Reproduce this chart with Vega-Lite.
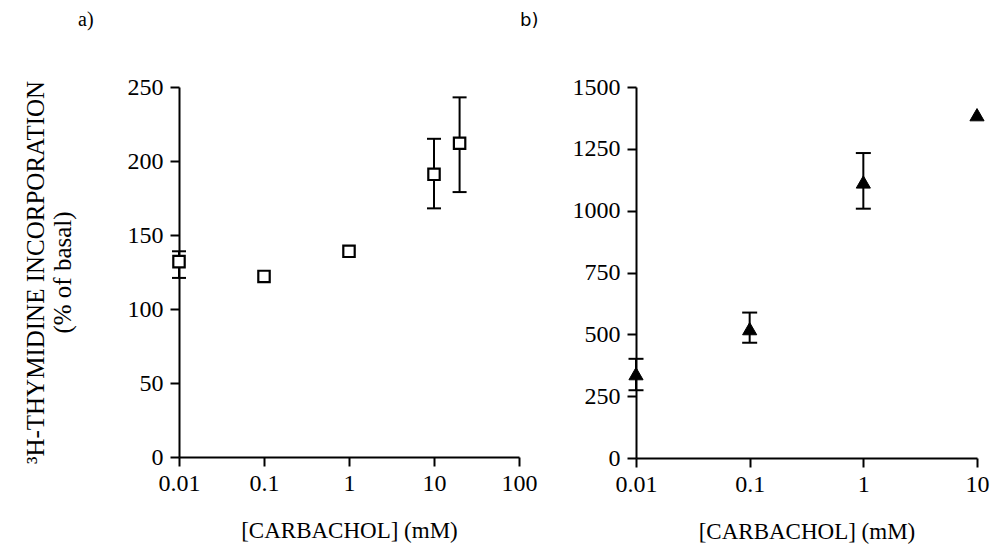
{
  "$schema": "https://vega.github.io/schema/vega-lite/v6.json",
  "background": "white",
  "padding": {"left": 23, "top": 10, "right": 5, "bottom": 5},
  "bounds": "flush",
  "spacing": 117,
  "datasets": {
    "carbA": [
      {"conc": 0.01, "pct": 132, "lo": 121, "hi": 139},
      {"conc": 0.1, "pct": 122, "lo": null, "hi": null},
      {"conc": 1, "pct": 139, "lo": null, "hi": null},
      {"conc": 10, "pct": 191, "lo": 168, "hi": 215},
      {"conc": 20, "pct": 212, "lo": 179, "hi": 243}
    ],
    "carbB": [
      {"conc": 0.01, "pct": 341, "lo": 274, "hi": 401},
      {"conc": 0.1, "pct": 523, "lo": 466, "hi": 588},
      {"conc": 1, "pct": 1116, "lo": 1008, "hi": 1233},
      {"conc": 10, "pct": 1388, "lo": null, "hi": null}
    ]
  },
  "config": {
    "view": {"stroke": null},
    "axis": {
      "grid": false,
      "domainColor": "black",
      "domainWidth": 2,
      "tickColor": "black",
      "tickWidth": 2,
      "tickSize": 9,
      "labelFont": "Liberation Serif",
      "labelFontSize": 24,
      "labelColor": "black",
      "labelPadding": 5,
      "labelFlush": false,
      "labelOverlap": false,
      "titleFont": "Liberation Serif",
      "titleFontSize": 23,
      "titleFontWeight": "normal",
      "titleColor": "black"
    },
    "axisY": {"labelPadding": 7},
    "title": {"color": "black", "fontWeight": "normal", "fontSize": 20}
  },
  "hconcat": [
    {
      "width": 340,
      "height": 370,
      "title": {"text": "a)", "anchor": "start", "frame": "group", "dx": -101, "offset": 45, "font": "Liberation Serif"},
      "data": {"name": "carbA"},
      "encoding": {
        "x": {
          "field": "conc", "type": "quantitative",
          "scale": {"type": "log", "domain": [0.01, 100], "nice": false},
          "axis": {"values": [0.01, 0.1, 1, 10, 100], "format": "~g", "title": "[CARBACHOL] (mM)", "titlePadding": 24}
        },
        "y": {
          "field": "pct", "type": "quantitative",
          "scale": {"domain": [0, 250], "nice": false},
          "title": ["³H-THYMIDINE INCORPORATION", "(% of basal)"],
          "axis": {"values": [0, 50, 100, 150, 200, 250], "format": "d", "titlePadding": 52, "titleLineHeight": 27, "titleFontSize": 25}
        }
      },
      "layer": [
        {
          "transform": [{"filter": "isValid(datum.lo)"}],
          "mark": {"type": "rule", "color": "black", "strokeWidth": 2},
          "encoding": {
            "y": {"field": "lo", "type": "quantitative", "title": ["³H-THYMIDINE INCORPORATION", "(% of basal)"]},
            "y2": {"field": "hi"}
          }
        },
        {
          "transform": [{"filter": "isValid(datum.lo)"}],
          "mark": {"type": "tick", "orient": "horizontal", "size": 14, "thickness": 2, "color": "black", "opacity": 1},
          "encoding": {"y": {"field": "lo", "type": "quantitative", "title": ["³H-THYMIDINE INCORPORATION", "(% of basal)"]}}
        },
        {
          "transform": [{"filter": "isValid(datum.hi)"}],
          "mark": {"type": "tick", "orient": "horizontal", "size": 14, "thickness": 2, "color": "black", "opacity": 1},
          "encoding": {"y": {"field": "hi", "type": "quantitative", "title": ["³H-THYMIDINE INCORPORATION", "(% of basal)"]}}
        },
        {
          "mark": {"type": "point", "shape": "square", "size": 130, "filled": true, "fill": "white", "stroke": "black", "strokeWidth": 2.2, "opacity": 1}
        }
      ]
    },
    {
      "width": 341,
      "height": 371,
      "title": {"text": "b)", "anchor": "start", "frame": "group", "dx": -116, "offset": 45, "font": "DejaVu Sans", "fontSize": 18},
      "data": {"name": "carbB"},
      "encoding": {
        "x": {
          "field": "conc", "type": "quantitative",
          "scale": {"type": "log", "domain": [0.01, 10], "nice": false},
          "axis": {"values": [0.01, 0.1, 1, 10], "format": "~g", "title": "[CARBACHOL] (mM)", "titlePadding": 24}
        },
        "y": {
          "field": "pct", "type": "quantitative",
          "scale": {"domain": [0, 1500], "nice": false},
          "title": null,
          "axis": {"values": [0, 250, 500, 750, 1000, 1250, 1500], "format": "d"}
        }
      },
      "layer": [
        {
          "transform": [{"filter": "isValid(datum.lo)"}],
          "mark": {"type": "rule", "color": "black", "strokeWidth": 2},
          "encoding": {
            "y": {"field": "lo", "type": "quantitative", "title": null},
            "y2": {"field": "hi"}
          }
        },
        {
          "transform": [{"filter": "isValid(datum.lo)"}],
          "mark": {"type": "tick", "orient": "horizontal", "size": 15, "thickness": 2, "color": "black", "opacity": 1},
          "encoding": {"y": {"field": "lo", "type": "quantitative", "title": null}}
        },
        {
          "transform": [{"filter": "isValid(datum.hi)"}],
          "mark": {"type": "tick", "orient": "horizontal", "size": 15, "thickness": 2, "color": "black", "opacity": 1},
          "encoding": {"y": {"field": "hi", "type": "quantitative", "title": null}}
        },
        {
          "mark": {"type": "point", "shape": "triangle-up", "size": 200, "filled": true, "fill": "black", "stroke": "black", "strokeWidth": 1, "opacity": 1}
        }
      ]
    }
  ]
}
